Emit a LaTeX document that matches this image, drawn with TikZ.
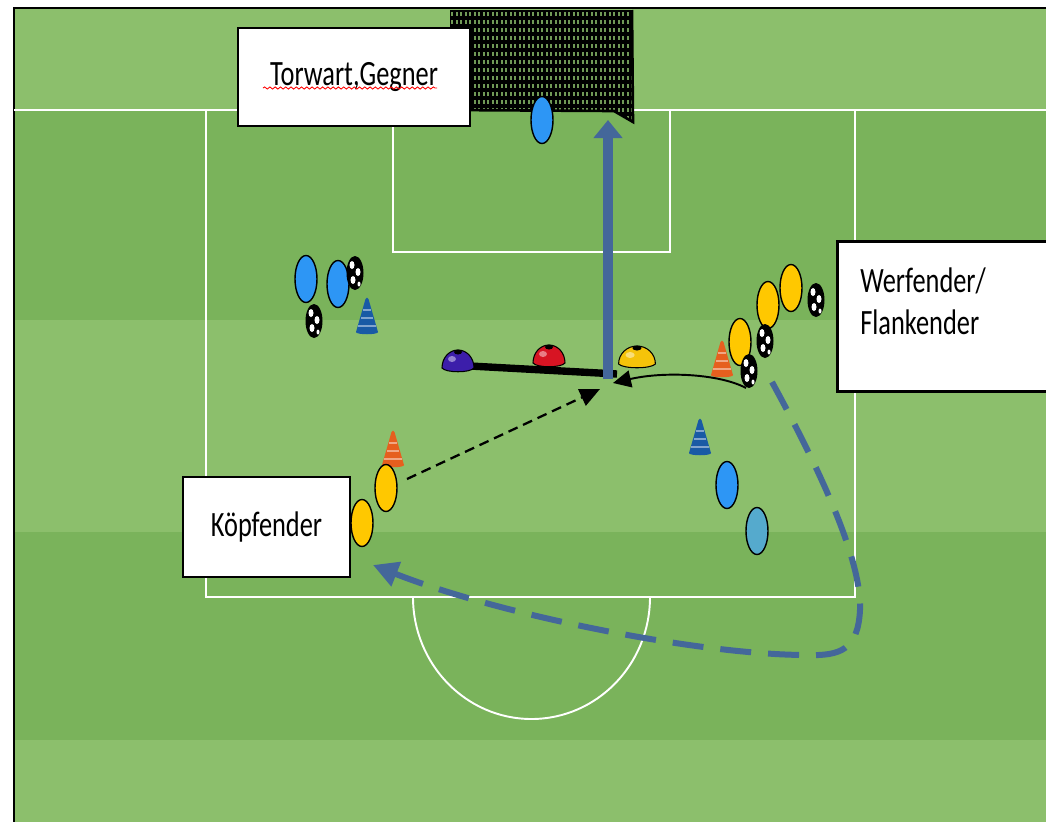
\documentclass[tikz,border=0pt]{standalone}
\usepackage{fontspec}
\setmainfont{Carlito}
\usepackage{graphicx}
\usetikzlibrary{shapes.geometric,arrows.meta,decorations.pathmorphing}

\definecolor{grasslight}{RGB}{140,191,108}
\definecolor{grassdark}{RGB}{122,179,91}
\definecolor{arrowblue}{RGB}{68,103,154}
\definecolor{playerblue}{RGB}{45,150,245}
\definecolor{playercyan}{RGB}{85,170,205}
\definecolor{playeryellow}{RGB}{255,200,0}
\definecolor{coneorange}{RGB}{230,95,30}
\definecolor{coneblue}{RGB}{25,90,165}
\definecolor{discpurple}{RGB}{60,30,170}
\definecolor{discred}{RGB}{215,20,35}
\definecolor{discyellow}{RGB}{245,195,10}

\newcommand{\tallbox}[1]{\scalebox{1}[1.35]{#1}}

\begin{document}
\begin{tikzpicture}[
  x=0.02cm, y=-0.02cm,
  labelbox/.style={rectangle, draw=black, line width=1.6pt, fill=white, inner sep=0pt, font=\fontsize{15}{18}\selectfont},
  player/.style={ellipse, draw=black, line width=0.8pt, minimum width=0.44cm, minimum height=0.94cm, inner sep=0pt},
  fieldline/.style={white, line width=1.1pt},
  pics/ball/.style={code={
    \fill[black] (0,0) ellipse [x radius=8.5, y radius=17];
    \fill[white] (-3,-8) ellipse [x radius=2.5, y radius=4];
    \fill[white] (3,-1) ellipse [x radius=2.5, y radius=4];
    \fill[white] (-2,7) ellipse [x radius=2.5, y radius=4];
    \fill[white] (4,11) ellipse [x radius=1.5, y radius=2.5];
  }},
  pics/cone/.style={code={
    \fill[#1] (-11,0) .. controls (-11,3) and (11,3) .. (11,0) -- (1.5,-33) .. controls (0.5,-35) and (-0.5,-35) .. (-1.5,-33) -- cycle;
    \foreach \h in {6,14,22}
      \draw[#1!55!white, line width=0.8pt] ({-11*(1-\h/34)},{-\h}) -- ({11*(1-\h/34)},{-\h});
  }},
  pics/disc/.style={code={
    \draw[black, line width=0.6pt, fill=#1] (-16,6) .. controls (-16,-4) and (-9,-12) .. (0,-12) .. controls (9,-12) and (16,-4) .. (16,6) .. controls (12,11) and (-12,11) .. (-16,6) -- cycle;
    \fill[black] (0,-10) ellipse [x radius=4, y radius=2.5];
    \fill[white, opacity=0.45] (-6,-3) ellipse [x radius=4, y radius=3];
  }}
]
\clip (0,0) rectangle (1046,822);

% pitch
\fill[white] (0,0) rectangle (1046,822);
\fill[grasslight] (14,8) rectangle (1046,822);
\fill[grassdark] (14,110) rectangle (1046,320);
\fill[grassdark] (14,532) rectangle (1046,740);
\draw[black, line width=1.2pt] (14,822) -- (14,8) -- (1046,8);

\draw[fieldline, line width=1.4pt] (14,110) -- (1046,110);
\draw[fieldline] (206,110) rectangle (855,597);
\draw[fieldline] (393,110) rectangle (670,252);
\draw[fieldline] (650,597) arc[start angle=0, end angle=180, x radius=118.5, y radius=122];

% goal net
\begin{scope}
  \clip (450,10) -- (632,10) -- (633,122) -- (614,111) -- (450,110) -- cycle;
  \fill[grasslight!80!black] (448,8) rectangle (636,124);
  \foreach \x in {450,454.5,...,636}
    \draw[black, line width=0.055cm] (\x,8) -- (\x,124);
  \foreach \y in {10,18,...,122}
    \draw[black, line width=0.085cm] (448,\y) -- (636,\y);
\end{scope}
\draw[black, line width=1.5pt] (632,10) -- (633,122) -- (614,111) -- (450,110);

% text boxes
\node[labelbox, minimum width=4.64cm, minimum height=1.96cm] (keeperbox) at (354,77) {\tallbox{Torwart,Gegner}};
\draw[red, line width=0.5pt, decorate, decoration={snake, amplitude=0.6pt, segment length=3pt}] (263,88) -- (437,88);
\node[labelbox, minimum width=3.34cm, minimum height=2cm] (headerbox) at (266.5,527) {\tallbox{Köpfender}};
\node[labelbox, anchor=north west, minimum width=4.6cm, minimum height=3cm] (throwerbox) at (836,240) {};
\node[font=\fontsize{15}{18}\selectfont, anchor=north west, inner sep=0pt] (throwertext) at (860,262)
  {\tallbox{\begin{tabular}{@{}l@{}}Werfender/\\Flankender\end{tabular}}};

% pass line and shot
\coordinate (passstart) at (470,366);
\coordinate (passend) at (617,374);
\coordinate (shot) at (608,379);
\coordinate (goal) at (608,120);
\draw[black, line width=4.2pt] (passstart) -- (passend);
\draw[arrowblue, line width=0.2cm, -{Triangle[length=0.36cm,width=0.56cm]}] (shot) -- (goal);

% discs and cones
\pic at (458,362) {disc=discpurple};
\pic at (549,357) {disc=discred};
\pic[xscale=1.15] at (637,358) {disc=discyellow};
\pic at (367,332) {cone=coneblue};
\pic at (722,375) {cone=coneorange};
\pic at (393,465) {cone=coneorange};
\pic at (700,453) {cone=coneblue};

% players
\node[player, fill=playerblue] (keeper) at (542,120) {};
\node[player, fill=playerblue] (defender1) at (306,279) {};
\node[player, fill=playerblue] (defender2) at (338,284) {};
\node[player, fill=playeryellow] (thrower1) at (791,288) {};
\node[player, fill=playeryellow] (thrower2) at (768,305) {};
\node[player, fill=playeryellow] (thrower3) at (740,342) {};
\node[player, fill=playeryellow] (header1) at (386,488) {};
\node[player, fill=playeryellow] (header2) at (362,523) {};
\node[player, fill=playerblue] (defender3) at (727,485) {};
\node[player, fill=playercyan] (defender4) at (757,531) {};

% balls
\pic at (355,273) {ball};
\pic at (314,321) {ball};
\pic at (816,300) {ball};
\pic at (765,341) {ball};
\pic at (749,371) {ball};

% throw, run to the ball, run back
\coordinate (throwball) at (746,388);
\coordinate (meet) at (613,383);
\coordinate (headerstart) at (407,479);
\coordinate (headerend) at (600,389);
\coordinate (runstart) at (772,382);
\coordinate (runend) at (373,565);

\draw[black, line width=1.1pt, -{Triangle[length=0.36cm,width=0.34cm]}] (throwball) .. controls (720,374) and (665,371) .. (meet);
\draw[black, line width=1.3pt, dash pattern=on 0.2cm off 0.12cm, -{Triangle[length=0.4cm,width=0.36cm]}] (headerstart) -- (headerend);
\draw[arrowblue, line width=0.12cm, dash pattern=on 0.62cm off 0.34cm, -{Triangle[length=0.5cm,width=0.5cm]}]
  (runstart) .. controls (820,470) and (862,560) .. (860,610)
  .. controls (858,650) and (840,656) .. (807,655)
  .. controls (700,655) and (500,615) .. (runend);
\end{tikzpicture}
\end{document}
